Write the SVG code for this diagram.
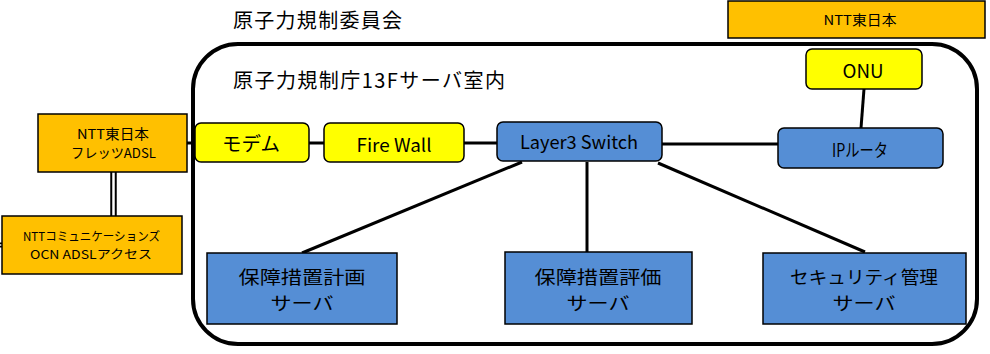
<svg xmlns="http://www.w3.org/2000/svg" width="990" height="354" viewBox="0 0 990 354">
<style>
text{font-family:"Noto Sans CJK JP","Noto Sans",sans-serif;fill:#000;text-anchor:middle}
.org{fill:#FFC000;stroke:#000;stroke-width:1.5}
.yel{fill:#FFFF00;stroke:#000;stroke-width:1.5}
.blu{fill:#558ED5;stroke:#000;stroke-width:1.5}
.ln{stroke:#000;stroke-width:3;fill:none}
.s13{font-size:13.5px}
.s12{font-size:12.2px}
.s18{font-size:19px}
.s21{font-size:17.8px}
</style>
<rect width="990" height="354" fill="#fff"/>
<g id="room">
<rect x="193" y="44" width="784" height="300" rx="45" ry="45" fill="none" stroke="#000" stroke-width="4"/>
<text x="233" y="28" style="font-size:20px;text-anchor:start" textLength="169" lengthAdjust="spacing">原子力規制委員会</text>
<text x="233" y="88" style="font-size:20px;text-anchor:start" textLength="272" lengthAdjust="spacing">原子力規制庁13Fサーバ室内</text>
</g>
<g id="connectors">
<line class="ln" x1="187" y1="143" x2="195" y2="143"/>
<line class="ln" x1="309" y1="143" x2="324" y2="143"/>
<line class="ln" x1="464" y1="143" x2="497" y2="143"/>
<line class="ln" x1="662" y1="144" x2="778" y2="144"/>
<line class="ln" x1="864" y1="89" x2="861" y2="128"/>
<line class="ln" x1="522" y1="162" x2="302" y2="253"/>
<line class="ln" x1="587" y1="162" x2="587" y2="252"/>
<line class="ln" x1="658" y1="163" x2="865" y2="252"/>
<line x1="113.5" y1="172" x2="113.5" y2="216" stroke="#000" stroke-width="6.5"/>
<line x1="113.5" y1="172" x2="113.5" y2="216" stroke="#fff" stroke-width="2.5"/>
<line x1="-2" y1="245" x2="3" y2="245" stroke="#000" stroke-width="5"/>
<line x1="-2" y1="245" x2="3" y2="245" stroke="#fff" stroke-width="1.5"/>
</g>
<g id="ntt-east-top">
<rect class="org" x="728" y="1" width="257" height="37"/>
<text class="s13" x="860" y="25" textLength="73" lengthAdjust="spacingAndGlyphs">NTT東日本</text>
</g>
<g id="ntt-flets">
<rect class="org" x="38" y="114" width="149" height="58"/>
<text class="s13" x="113" y="139" textLength="72" lengthAdjust="spacingAndGlyphs">NTT東日本</text>
<text class="s13" x="113.5" y="158" textLength="85" lengthAdjust="spacingAndGlyphs">フレッツADSL</text>
</g>
<g id="ocn">
<rect class="org" x="2" y="216" width="180" height="58"/>
<text class="s12" x="91.5" y="241" textLength="137" lengthAdjust="spacingAndGlyphs">NTTコミュニケーションズ</text>
<text class="s12" x="91" y="259" textLength="122" lengthAdjust="spacingAndGlyphs">OCN ADSLアクセス</text>
</g>
<g id="modem">
<rect class="yel" x="195" y="123" width="114" height="39" rx="6"/>
<text class="s18" x="251" y="151" textLength="58" lengthAdjust="spacingAndGlyphs">モデム</text>
</g>
<g id="firewall">
<rect class="yel" x="324" y="123" width="140" height="39" rx="6"/>
<text x="394" y="152" style="font-size:18px" textLength="75" lengthAdjust="spacingAndGlyphs">Fire Wall</text>
</g>
<g id="l3switch">
<rect class="blu" x="497" y="122" width="165" height="39" rx="6"/>
<text x="579" y="149" style="font-size:18px" textLength="118" lengthAdjust="spacingAndGlyphs">Layer3 Switch</text>
</g>
<g id="onu">
<rect class="yel" x="806" y="49" width="116" height="40" rx="6"/>
<text x="863" y="78" style="font-size:18px" textLength="41" lengthAdjust="spacingAndGlyphs">ONU</text>
</g>
<g id="iprouter">
<rect class="blu" x="778" y="128" width="165" height="40" rx="6"/>
<text x="860" y="157" style="font-size:18px" textLength="56" lengthAdjust="spacingAndGlyphs">IPルータ</text>
</g>
<g id="srv-plan">
<rect class="blu" x="207" y="253" width="190" height="71"/>
<text class="s21" x="302" y="284" textLength="127" lengthAdjust="spacingAndGlyphs">保障措置計画</text>
<text class="s21" x="302" y="310" textLength="63" lengthAdjust="spacingAndGlyphs">サーバ</text>
</g>
<g id="srv-eval">
<rect class="blu" x="505" y="252" width="187" height="72"/>
<text class="s21" x="598" y="284" textLength="127" lengthAdjust="spacingAndGlyphs">保障措置評価</text>
<text class="s21" x="598" y="310" textLength="63" lengthAdjust="spacingAndGlyphs">サーバ</text>
</g>
<g id="srv-sec">
<rect class="blu" x="763" y="253" width="203" height="71"/>
<text class="s21" x="864" y="284" textLength="148" lengthAdjust="spacingAndGlyphs">セキュリティ管理</text>
<text class="s21" x="864" y="310" textLength="63" lengthAdjust="spacingAndGlyphs">サーバ</text>
</g>
</svg>
